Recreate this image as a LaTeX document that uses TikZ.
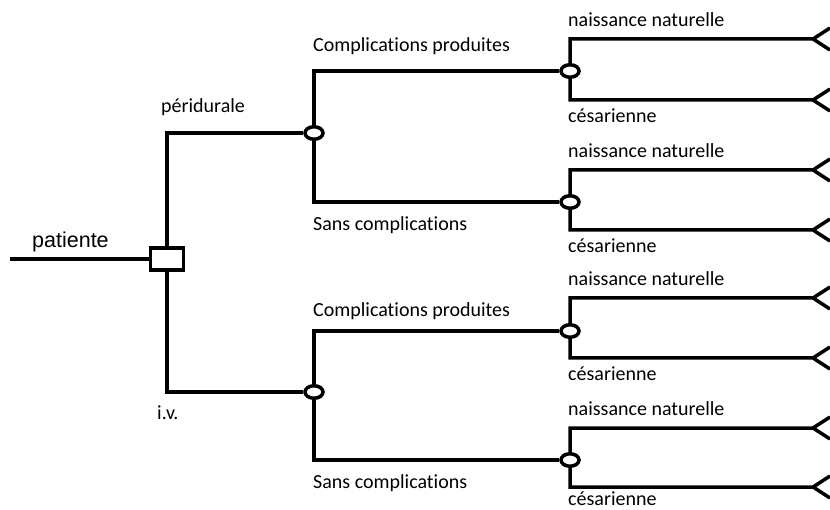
\documentclass[tikz,border=0pt]{standalone}
\usepackage{fontspec}
\setmainfont{Carlito}[Ligatures=NoCommon]
\newfontfamily\arialfont{Liberation Sans}
\usetikzlibrary{shapes.geometric,positioning}
\tikzset{
 branch/.style={line width=3.5pt,draw=black},
 chance/.style={ellipse,draw=black,line width=3.5pt,fill=white,minimum width=18pt,
   minimum height=12.5pt,inner sep=0pt},
 decision/.style={rectangle,draw=black,line width=3.5pt,fill=white,minimum width=33pt,
   minimum height=22pt,inner sep=0pt},
 lbl/.style={anchor=base west,inner sep=0pt,font=\fontsize{20}{24}\selectfont}
}
\begin{document}
\begin{tikzpicture}[x=1pt,y=-1pt]
 \useasboundingbox (0,0) rectangle (830,510);
 % decision and chance nodes
 \node[decision] (d0) at (167,259) {};
 \node[chance] (c1) at (314,133) {};
 \node[chance] (c2) at (314,392) {};
 \node[chance] (c11) at (570,71) {};
 \node[chance] (c12) at (570,202) {};
 \node[chance] (c21) at (570,331) {};
 \node[chance] (c22) at (570,460) {};
 % free ends
 \coordinate (start) at (10,259);
 \coordinate (l11a) at (813,39);
 \coordinate (l11b) at (813,100);
 \coordinate (l12a) at (813,170);
 \coordinate (l12b) at (813,230);
 \coordinate (l21a) at (813,298);
 \coordinate (l21b) at (813,358);
 \coordinate (l22a) at (813,428);
 \coordinate (l22b) at (813,487);
 % branches
 \draw[branch] (start) -- (d0.west);
 \draw[branch] (d0.north) |- (c1.west);
 \draw[branch] (d0.south) |- (c2.west);
 \draw[branch] (c1.north) |- (c11.west);
 \draw[branch] (c1.south) |- (c12.west);
 \draw[branch] (c2.north) |- (c21.west);
 \draw[branch] (c2.south) |- (c22.west);
 \draw[branch] (c11.north) |- (l11a) -- ++(17,-11) (l11a) -- ++(17,11);
 \draw[branch] (c11.south) |- (l11b) -- ++(17,-11) (l11b) -- ++(17,11);
 \draw[branch] (c12.north) |- (l12a) -- ++(17,-11) (l12a) -- ++(17,11);
 \draw[branch] (c12.south) |- (l12b) -- ++(17,-11) (l12b) -- ++(17,11);
 \draw[branch] (c21.north) |- (l21a) -- ++(17,-11) (l21a) -- ++(17,11);
 \draw[branch] (c21.south) |- (l21b) -- ++(17,-11) (l21b) -- ++(17,11);
 \draw[branch] (c22.north) |- (l22a) -- ++(17,-11) (l22a) -- ++(17,11);
 \draw[branch] (c22.south) |- (l22b) -- ++(17,-11) (l22b) -- ++(17,11);
 % labels
 \node[lbl,font=\arialfont\fontsize{21.5}{25}\selectfont] (tpat) at (32,248) {patiente};
 \node[lbl] (tperi) at (161,113) {péridurale};
 \node[lbl] (tiv) at (157,420) {i.v.};
 \node[lbl] (tcomp1) at (313,52) {Complications produites};
 \node[lbl] (tsans1) at (313,231) {Sans complications};
 \node[lbl] (tcomp2) at (313,317) {Complications produites};
 \node[lbl] (tsans2) at (313,488) {Sans complications};
 \node[lbl] (tnat11) at (568,27) {naissance naturelle};
 \node[lbl] (tces11) at (568,123) {césarienne};
 \node[lbl] (tnat12) at (568,158) {naissance naturelle};
 \node[lbl] (tces12) at (568,253) {césarienne};
 \node[lbl] (tnat21) at (568,286) {naissance naturelle};
 \node[lbl] (tces21) at (568,381) {césarienne};
 \node[lbl] (tnat22) at (568,416) {naissance naturelle};
 \node[lbl] (tces22) at (568,505) {césarienne};
\end{tikzpicture}
\end{document}
